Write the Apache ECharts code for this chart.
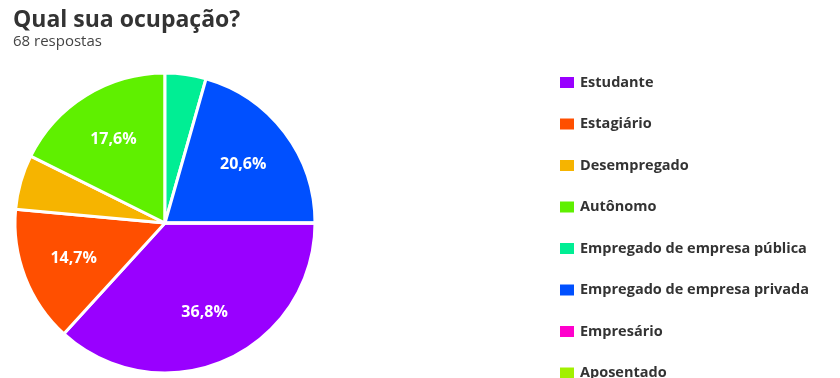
<!DOCTYPE html>
<html>
<head>
<meta charset="utf-8">
<script src="https://cdn.jsdelivr.net/npm/echarts@6/dist/echarts.min.js"></script>
<style>
  html, body { margin: 0; padding: 0; background: #fff; }
  #chart { width: 840px; height: 378px; }
</style>
</head>
<body>
<div id="chart"></div>
<script>
// respostas por ocupação (68 no total)
const categorias = ['Estudante', 'Estagiário', 'Desempregado', 'Autônomo',
    'Empregado de empresa pública', 'Empregado de empresa privada', 'Empresário', 'Aposentado'];
const respostas = [25, 10, 4, 12, 3, 14, 0, 0];
const cores = ['#9900ff', '#ff4f00', '#f6b400', '#5ff000', '#00ee94', '#0050ff', '#ff00cc', '#a2f000'];

var myChart = echarts.init(document.getElementById('chart'));

function rotulo(p) {
    // fatias pequenas ficam sem rótulo
    if (p.percent < 7) return '';
    return p.percent.toFixed(1).replace('.', ',') + '%';
}

const dados = categorias.map((c, i) => ({ name: c, value: respostas[i] }));

let option = {
    title: {
        text: 'Qual sua ocupação?',
        subtext: '68 respostas',
        left: 8,
        top: 4,
        itemGap: 2,
        textStyle: {
            fontSize: 23,
            fontWeight: 'bold',
            fontFamily: 'Open Sans',
            color: '#333'
        },
        subtextStyle: {
            fontSize: 15,
            fontFamily: 'Open Sans',
            color: '#444'
        }
    },
    color: cores,
    legend: {
        orient: 'vertical',
        left: 553,
        top: 70,
        height: 420,
        itemWidth: 16,
        itemHeight: 13,
        itemGap: 26.5,
        icon: 'rect',
        textStyle: {
            fontSize: 14.5,
            fontWeight: 'bold',
            fontFamily: 'Open Sans',
            color: '#333'
        },
        data: categorias
    },
    series: [{
        type: 'pie',
        center: [165, 223],
        radius: 150,
        startAngle: 0,
        clockwise: true,
        avoidLabelOverlap: false,
        itemStyle: {
            borderColor: '#fff',
            borderWidth: 3
        },
        label: { show: false },
        labelLine: { show: false },
        data: dados
    }, {
        // camada só para posicionar os rótulos mais para fora
        type: 'pie',
        center: [165, 223],
        radius: [40, 150],
        startAngle: 0,
        clockwise: true,
        silent: true,
        avoidLabelOverlap: false,
        itemStyle: { color: 'transparent', borderWidth: 0 },
        emphasis: { disabled: true },
        label: {
            position: 'inside',
            color: '#fff',
            fontSize: 16,
            fontWeight: 'bold',
            fontFamily: 'Open Sans',
            formatter: rotulo
        },
        labelLine: { show: false },
        data: dados
    }]
};

myChart.setOption(option);
</script>
</body>
</html>
